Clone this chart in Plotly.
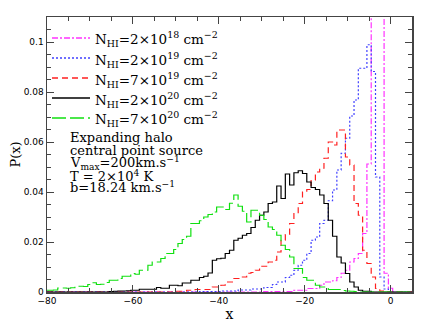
import plotly.graph_objects as go

# bin centres of the histograms (x), unit width
BIN_CENTERS = list(range(-80, 6))

# P(x) for each column density, one value per bin centre
P_2E18 = [0] * 51 + [0.0002] * 7 + [
    0.0007, 0.0007, 0.0007, 0.0014, 0.0014, 0.0014, 0.0027, 0.0040, 0.0040, 0.0045,
    0.0058, 0.0075, 0.0087, 0.0120, 0.0134, 0.0154, 0.0234, 0.0512, 0.16, 0.22,
    0.15, 0.0075, 0.0015] + [0] * 5

P_2E19 = [0] * 36 + [0.0002] * 5 + [0.0004] * 4 + [0.0008] * 3 + [
    0.0012, 0.0012, 0.0012, 0.0018, 0.0018, 0.0030, 0.0040, 0.0040, 0.0058, 0.0067,
    0.0087, 0.0107, 0.0127, 0.0154, 0.0207, 0.0220, 0.0274, 0.0287, 0.0365, 0.0408,
    0.0488, 0.0555, 0.0615, 0.0704, 0.0768, 0.0895, 0.0895, 0.0989, 0.0882, 0.0460,
    0.0060, 0.0012] + [0] * 6

P_7E19 = [0] * 30 + [
    0.0003, 0.0003, 0.0003, 0.0007, 0.0007, 0.0010, 0.0010, 0.0010, 0.0010, 0.0020,
    0.0020, 0.0027, 0.0040, 0.0040, 0.0054, 0.0054, 0.0060, 0.0075, 0.0078, 0.0087,
    0.0103, 0.0103, 0.0120, 0.0127, 0.0160, 0.0207, 0.0230, 0.0274, 0.0314, 0.0354,
    0.0400, 0.0410, 0.0448, 0.0480, 0.0495, 0.0535, 0.0600, 0.0588, 0.0648, 0.0648,
    0.0540, 0.0508, 0.0354, 0.0307, 0.0167, 0.0114, 0.0060, 0.0014, 0.0004] + [0] * 7

P_2E20 = [0] * 15 + [
    0.0002, 0.0003, 0.0004, 0.0004, 0.0005, 0.0007, 0.0007, 0.0011, 0.0011, 0.0011,
    0.0011, 0.0018, 0.0015, 0.0015, 0.0027, 0.0027, 0.0025, 0.0036, 0.0036, 0.0047,
    0.0047, 0.0058, 0.0063, 0.0076, 0.0127, 0.0133, 0.0135, 0.0154, 0.0167, 0.0207,
    0.0215, 0.0227, 0.0234, 0.0258, 0.0287, 0.0307, 0.0320, 0.0354, 0.0360, 0.0424,
    0.0374, 0.0472, 0.0428, 0.0477, 0.0485, 0.0474, 0.0440, 0.0418, 0.0410, 0.0388,
    0.0354, 0.0287, 0.0223, 0.0140, 0.0116, 0.0074, 0.0040, 0.0020, 0.0007, 0.0003,
    0.0003] + [0] * 10

P_7E20 = [
    0.0007, 0.0007, 0.0008, 0.0016, 0.0016, 0.0015, 0.0017, 0.0023, 0.0023, 0.0022,
    0.0030, 0.0037, 0.0030, 0.0031, 0.0038, 0.0047, 0.0047, 0.0054, 0.0063, 0.0063,
    0.0074, 0.0071, 0.0087, 0.0087, 0.0107, 0.0120, 0.0120, 0.0134, 0.0154, 0.0154,
    0.0170, 0.0194, 0.0210, 0.0223, 0.0274, 0.0274, 0.0285, 0.0300, 0.0310, 0.0320,
    0.0340, 0.0340, 0.0330, 0.0355, 0.0388, 0.0343, 0.0323, 0.0280, 0.0327, 0.0327,
    0.0307, 0.0290, 0.0260, 0.0250, 0.0227, 0.0187, 0.0170, 0.0140, 0.0094, 0.0094,
    0.0058, 0.0047, 0.0047, 0.0027, 0.0020, 0.0020, 0.0010, 0.0010, 0.0010, 0.0006,
    0.0004, 0.0003, 0.0002] + [0] * 13

SERIES_LABELS = [
    "N<sub>HI</sub>=2×10<sup>18</sup> cm<sup>−2</sup>",
    "N<sub>HI</sub>=2×10<sup>19</sup> cm<sup>−2</sup>",
    "N<sub>HI</sub>=7×10<sup>19</sup> cm<sup>−2</sup>",
    "N<sub>HI</sub>=2×10<sup>20</sup> cm<sup>−2</sup>",
    "N<sub>HI</sub>=7×10<sup>20</sup> cm<sup>−2</sup>",
]
SERIES_VALUES = [P_2E18, P_2E19, P_7E19, P_2E20, P_7E20]

INFO_LINES = [
    "Expanding halo",
    "central point source",
    "V<sub>max</sub>=200km.s<sup>−1</sup>",
    "T = 2×10<sup>4</sup> K",
    "b=18.24 km.s<sup>−1</sup>",
]

X_TICKS = [-80, -60, -40, -20, 0]
Y_TICKS = [0, 0.02, 0.04, 0.06, 0.08, 0.1]

# styles
COLORS = ["#ff33ff", "#4040ff", "#ff2020", "#000000", "#10e010"]
DASHES = ["6px,2px,2px,2px", "2px,2px", "6px,4px", "solid", "14px,4px"]
SERIF = "DejaVu Serif"
W, H = 436, 327
# the page puts the figure 8px in from the top-left corner, so the margins
# are set 8px smaller on the left/top and 8px larger on the right/bottom
PAGE = 8
L, R, T, B = 47 - PAGE, 24 + PAGE, 17 - PAGE, 35 + PAGE


def px_x(px):
    return (px - PAGE - L) / (W - L - R)


def px_y(py):
    return (H - B - (py - PAGE)) / (H - T - B)


fig = go.Figure()
for vals, col, dash, name in zip(SERIES_VALUES, COLORS, DASHES, SERIES_LABELS):
    fig.add_trace(go.Scatter(
        x=BIN_CENTERS, y=vals, mode="lines", name=name,
        line=dict(color=col, dash=dash, width=1.2, shape="hvh"),
        showlegend=False, hoverinfo="skip",
    ))

# hand-made legend (sample line + label)
legend_rows = [38, 58, 78, 98, 118]
for row, col, dash, name in zip(legend_rows, COLORS, DASHES, SERIES_LABELS):
    fig.add_shape(type="line", xref="paper", yref="paper", layer="above",
                  x0=px_x(52), x1=px_x(90), y0=px_y(row), y1=px_y(row),
                  line=dict(color=col, dash=dash, width=1.6))
    fig.add_annotation(text=name, xref="paper", yref="paper",
                       x=px_x(93), y=px_y(row + 1.5), xanchor="left", yanchor="middle",
                       showarrow=False, font=dict(family=SERIF, size=13.5, color="#000"))

info_rows = [137, 150, 163, 176, 187]
for row, line in zip(info_rows, INFO_LINES):
    fig.add_annotation(text=line, xref="paper", yref="paper",
                       x=px_x(68), y=px_y(row), xanchor="left", yanchor="middle",
                       showarrow=False, font=dict(family=SERIF, size=13, color="#000"))

axis_common = dict(
    showline=True, linecolor="#444", linewidth=1.5, mirror="ticks",
    ticks="inside", ticklen=7, tickcolor="#444", tickwidth=1,
    showgrid=False, zeroline=False, automargin=False,
    tickfont=dict(family="DejaVu Sans", size=9, color="#000"),
)
fig.update_layout(
    width=W, height=H,
    margin=dict(l=L, r=R, t=T, b=B),
    paper_bgcolor="white", plot_bgcolor="white",
    showlegend=False, hovermode=False,
    xaxis=dict(
        **axis_common, range=[-80, 5], tickvals=X_TICKS,
        minor=dict(dtick=5, ticks="inside", ticklen=4, tickcolor="#444", showgrid=False),
        title=dict(text="x", font=dict(family=SERIF, size=14, color="#000"), standoff=2),
    ),
    yaxis=dict(
        **axis_common, range=[0, 0.11], tickvals=Y_TICKS,
        minor=dict(dtick=0.005, ticks="inside", ticklen=4, tickcolor="#444", showgrid=False),
        title=dict(text="P(x)", font=dict(family=SERIF, size=13, color="#000"), standoff=2),
    ),
)

fig.write_html("out.html", config={"staticPlot": True, "displayModeBar": False})
